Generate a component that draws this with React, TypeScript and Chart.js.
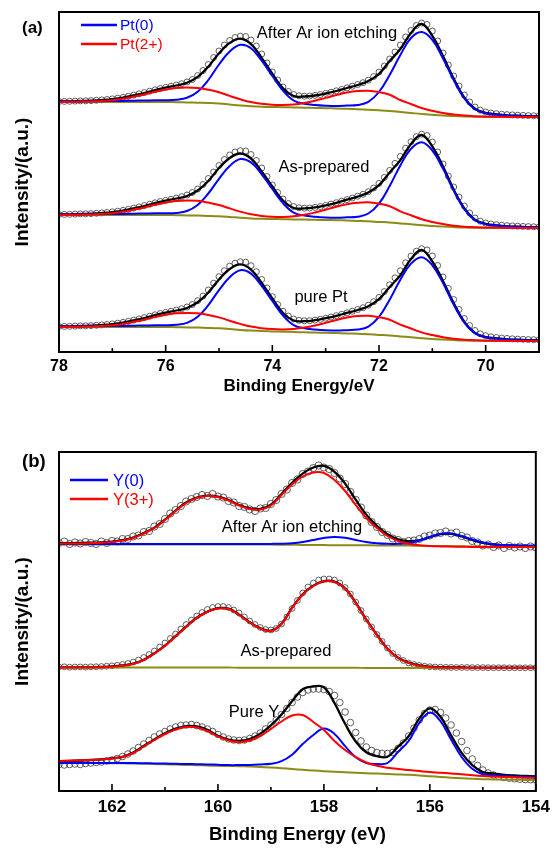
import React, { useEffect, useRef } from 'react';
import { Chart, registerables } from 'chart.js';

Chart.register(...registerables);

const FONT = '"Liberation Sans", Arial, Helvetica, sans-serif';

// ---------- Panel (a): Pt 4f ----------
const E_LINE_A = [
  78, 77.8, 77.6, 77.4, 77.2, 77, 76.8, 76.6, 76.4, 76.2,
  76, 75.8, 75.6, 75.4, 75.2, 75, 74.8, 74.6, 74.4, 74.2,
  74, 73.8, 73.6, 73.4, 73.2, 73, 72.8, 72.6, 72.4, 72.2,
  72, 71.8, 71.6, 71.4, 71.2, 71, 70.8, 70.6, 70.4, 70.2,
  70, 69.8, 69.6, 69.4, 69.2, 69,
];
const E_DOT_A = [
  78, 77.9, 77.8, 77.7, 77.6, 77.5, 77.4, 77.3, 77.2, 77.1,
  77, 76.9, 76.8, 76.7, 76.6, 76.5, 76.4, 76.3, 76.2, 76.1,
  76, 75.9, 75.8, 75.7, 75.6, 75.5, 75.4, 75.3, 75.2, 75.1,
  75, 74.9, 74.8, 74.7, 74.6, 74.5, 74.4, 74.3, 74.2, 74.1,
  74, 73.9, 73.8, 73.7, 73.6, 73.5, 73.4, 73.3, 73.2, 73.1,
  73, 72.9, 72.8, 72.7, 72.6, 72.5, 72.4, 72.3, 72.2, 72.1,
  72, 71.9, 71.8, 71.7, 71.6, 71.5, 71.4, 71.3, 71.2, 71.1,
  71, 70.9, 70.8, 70.7, 70.6, 70.5, 70.4, 70.3, 70.2, 70.1,
  70, 69.9, 69.8, 69.7, 69.6, 69.5, 69.4, 69.3, 69.2, 69.1,
  69,
];
const TICKS_A_MAJOR = [78, 76, 74, 72, 70];
const TICKS_A_MINOR = [77, 75, 73, 71, 69];
const OFFSETS_A = [235, 124, 11]; // After Ar ion etching, As-prepared, pure Pt

// After Ar ion etching
const A1_BG = [
  15, 15, 15, 15, 15, 15, 15, 15, 15, 15,
  15, 14.8, 14.6, 14.3, 14, 13.5, 12.5, 11.5, 10.8, 10.3,
  10, 9.8, 9.5, 9.3, 9, 8.8, 8.5, 8.2, 7.8, 7.3,
  6.7, 6, 5, 4, 3, 2.2, 1.5, 1, 0.6, 0.3,
  0.1, 0, 0, 0, 0, 0,
];
const A1_PT0 = [
  15.5, 15.5, 15.6, 15.7, 15.8, 16, 16.1, 16.3, 16.5, 16.7,
  16.7, 17.2, 19.2, 25.3, 37, 52.5, 65.5, 72.2, 68.8, 56.3,
  41, 26.3, 16.5, 13.3, 12, 11.3, 11, 11.4, 12, 15.1,
  25, 42, 62, 79, 85, 77.2, 58.5, 37, 18.6, 7.7,
  3.8, 2.5, 1.6, 1.2, 0.8, 0.6,
];
const A1_PT2 = [
  15, 15.2, 15.4, 15.6, 16.1, 16.8, 18.2, 20.3, 22.5, 25.2,
  27.6, 29.1, 29.6, 29.1, 27.3, 24.8, 21.1, 17.7, 14.9, 13.2,
  12.3, 12.1, 12.6, 14.1, 16.3, 19.1, 22, 24.5, 26, 26.3,
  24.9, 22.3, 17, 13, 9, 6.2, 4, 2.4, 1.4, 0.8,
  0.4, 0.2, 0.1, 0.1, 0, 0,
];
const A1_FIT = [
  15.5, 15.7, 16, 16.3, 16.9, 17.8, 19.3, 21.6, 24, 26.9,
  29.3, 31.5, 34.2, 40.1, 50.3, 63.8, 74.1, 78.4, 72.9, 59.2,
  43.3, 28.6, 21, 20.5, 21.5, 23.5, 26, 29, 32, 36,
  43.2, 56, 68, 84, 93, 81.2, 61, 38.4, 19.4, 8.2,
  4.1, 2.7, 1.7, 1.3, 0.8, 0.6,
];
const A1_DATA = [
  15.5, 15.6, 15.7, 15.9, 16.1, 16.2, 16.4, 16.7, 17.1, 17.5,
  18.1, 18.8, 19.6, 20.7, 21.9, 23.1, 24.4, 25.8, 27.2, 28.5,
  29.6, 30.7, 31.9, 33.3, 35, 37.5, 41.5, 46.5, 52.5, 59.5,
  66, 72, 76.5, 79.5, 80.8, 80.5, 77, 71, 63, 54,
  45, 37, 30, 25.5, 22.5, 21.2, 20.8, 21, 21.6, 22.5,
  23.6, 24.8, 26.2, 27.6, 29.2, 30.8, 32.5, 34.3, 36.8, 40.5,
  45, 51, 58, 65, 72, 80, 86.5, 91.5, 94, 92.5,
  86, 76, 64, 52, 41, 31, 22, 15, 10, 6.8,
  5, 4, 3.3, 2.8, 2.4, 2.1, 1.8, 1.6, 1.4, 1.2,
  1.1,
];

// As-prepared
const A2_BG = [
  13, 13, 13, 13, 13, 13, 13, 13, 13, 13,
  13, 12.8, 12.6, 12.4, 12.1, 11.7, 11, 10.2, 9.6, 9.2,
  9, 8.8, 8.6, 8.4, 8.2, 8, 7.8, 7.5, 7.1, 6.7,
  6.1, 5.5, 4.6, 3.7, 2.8, 2, 1.4, 0.9, 0.5, 0.3,
  0.1, 0, 0, 0, 0, 0,
];
const A2_PT0 = [
  13.5, 13.5, 13.6, 13.7, 13.8, 14, 14.1, 14.3, 14.5, 14.7,
  14.7, 15.1, 17, 23, 34.5, 49.2, 62, 68.9, 65.6, 53.7,
  39, 24.8, 15.4, 12.4, 11.2, 10.5, 10.3, 10.7, 11.3, 14.5,
  24.4, 42, 62.6, 79.2, 85.8, 77.5, 59.4, 37.4, 18.8, 7.8,
  3.9, 2.6, 1.7, 1.2, 0.8, 0.6,
];
const A2_PT2 = [
  13, 13.2, 13.4, 13.6, 14.1, 14.8, 16.2, 18.3, 20.5, 23.2,
  25.6, 27.1, 27.6, 27.2, 25.4, 23, 19.6, 16.4, 13.7, 12.1,
  11.3, 11.1, 11.7, 13.2, 15.5, 18.3, 21.3, 23.8, 25.3, 25.7,
  24.3, 21.8, 16.6, 12.7, 8.8, 6, 3.9, 2.3, 1.3, 0.8,
  0.4, 0.2, 0.1, 0.1, 0, 0,
];
const A2_FIT = [
  13.5, 13.7, 14, 14.3, 14.9, 15.8, 17.3, 19.6, 22, 24.9,
  27.3, 29.5, 32, 37.5, 47, 60, 70, 74.5, 69.5, 56.5,
  41.5, 27.5, 20, 19.6, 20.6, 22.7, 25.2, 28.3, 31.4, 35.5,
  42.8, 55.6, 67.8, 84, 93, 81.5, 61.5, 38.6, 19.5, 8.3,
  4.1, 2.7, 1.7, 1.3, 0.8, 0.6,
];
const A2_DATA = [
  13.5, 13.6, 13.7, 13.9, 14.1, 14.2, 14.4, 14.7, 15.1, 15.5,
  16.1, 16.8, 17.6, 18.7, 19.9, 21.1, 22.4, 23.8, 25.2, 26.5,
  27.6, 28.7, 29.9, 31.3, 33, 35.5, 39, 43.5, 49.5, 56,
  62.5, 68.5, 73, 76, 77.3, 77, 73.5, 67.5, 60, 51.5,
  43, 35.5, 29, 24.5, 21.5, 20.2, 19.8, 20, 20.6, 21.5,
  22.6, 23.9, 25.3, 26.8, 28.4, 30, 31.8, 33.7, 36.3, 40,
  44.6, 50.6, 57.6, 64.6, 71.6, 79.7, 86.3, 91.3, 93.8, 92.4,
  86, 76, 64, 52, 41, 31, 22, 15, 10, 6.8,
  5, 4, 3.3, 2.8, 2.4, 2.1, 1.8, 1.6, 1.4, 1.2,
  1.1,
];

// pure Pt
const A3_BG = [
  14, 14, 14, 14, 14, 14, 14, 14, 14, 14,
  14, 13.8, 13.6, 13.4, 13.1, 12.7, 12, 11.1, 10.4, 9.9,
  9.6, 9.3, 9, 8.7, 8.5, 8.2, 7.9, 7.6, 7.2, 6.7,
  6.1, 5.5, 4.6, 3.7, 2.8, 2, 1.4, 0.9, 0.5, 0.3,
  0.1, 0, 0, 0, 0, 0,
];
const A3_PT0 = [
  14.5, 14.5, 14.6, 14.7, 14.8, 15, 15.1, 15.3, 15.5, 15.7,
  15.7, 16.2, 18.1, 24.2, 35.9, 50.9, 63.8, 70.8, 67.4, 55.1,
  40.1, 25.5, 15.9, 12.7, 11.5, 10.7, 10.4, 10.8, 11.4, 14.4,
  24.1, 41.3, 61.3, 77.4, 83.8, 75.7, 57.9, 36.5, 18.3, 7.6,
  3.8, 2.5, 1.6, 1.2, 0.8, 0.6,
];
const A3_PT2 = [
  14, 14.2, 14.4, 14.6, 15.1, 15.8, 17.1, 19.1, 21.3, 23.9,
  26.2, 27.7, 28.1, 27.7, 26, 23.6, 20.3, 17.1, 14.4, 12.8,
  11.9, 11.6, 12.1, 13.4, 15.5, 18.2, 21, 23.5, 25, 25.2,
  23.8, 21.3, 16.3, 12.5, 8.6, 5.9, 3.8, 2.3, 1.3, 0.8,
  0.4, 0.2, 0.1, 0.1, 0, 0,
];
const A3_FIT = [
  14.5, 14.7, 15, 15.3, 15.9, 16.8, 18.3, 20.6, 23, 25.9,
  28.3, 30.5, 33, 38.7, 48.5, 61.6, 72, 76.6, 71.4, 58,
  42.5, 28, 20.5, 19.8, 20.8, 22.8, 25.2, 28.1, 31, 34.8,
  41.8, 54, 65.8, 82, 91, 79.5, 60, 38, 19.2, 8.1,
  4, 2.7, 1.7, 1.3, 0.8, 0.6,
];
const A3_DATA = [
  14.5, 14.6, 14.7, 14.9, 15.1, 15.2, 15.4, 15.7, 16.1, 16.5,
  17.1, 17.8, 18.6, 19.7, 20.9, 22.1, 23.4, 24.8, 26.2, 27.5,
  28.6, 29.7, 30.9, 32.3, 34, 36.5, 40.3, 45, 51, 57.8,
  64.3, 70.3, 74.8, 77.8, 79.2, 78.8, 75.3, 69.3, 61.5, 53,
  44.3, 36.5, 29.8, 25, 22, 20.6, 20.2, 20.3, 20.9, 21.7,
  22.8, 24, 25.3, 26.7, 28.2, 29.8, 31.5, 33.3, 35.8, 39.3,
  43.6, 49.4, 56.2, 63.2, 70.2, 78.2, 84.8, 89.8, 92.3, 91,
  85, 75.5, 64, 52.5, 41.5, 31.5, 22.5, 15.5, 10.5, 7.2,
  5.3, 4.2, 3.5, 3, 2.6, 2.2, 1.9, 1.7, 1.5, 1.3,
  1.2,
];

// ---------- Panel (b): Y 3d ----------
const E_LINE_B = [
  163, 162.8, 162.6, 162.4, 162.2, 162, 161.8, 161.6, 161.4, 161.2,
  161, 160.8, 160.6, 160.4, 160.2, 160, 159.8, 159.6, 159.4, 159.2,
  159, 158.8, 158.6, 158.4, 158.2, 158, 157.8, 157.6, 157.4, 157.2,
  157, 156.8, 156.6, 156.4, 156.2, 156, 155.8, 155.6, 155.4, 155.2,
  155, 154.8, 154.6, 154.4, 154.2, 154,
];
const E_DOT_B = [
  163, 162.9, 162.8, 162.7, 162.6, 162.5, 162.4, 162.3, 162.2, 162.1,
  162, 161.9, 161.8, 161.7, 161.6, 161.5, 161.4, 161.3, 161.2, 161.1,
  161, 160.9, 160.8, 160.7, 160.6, 160.5, 160.4, 160.3, 160.2, 160.1,
  160, 159.9, 159.8, 159.7, 159.6, 159.5, 159.4, 159.3, 159.2, 159.1,
  159, 158.9, 158.8, 158.7, 158.6, 158.5, 158.4, 158.3, 158.2, 158.1,
  158, 157.9, 157.8, 157.7, 157.6, 157.5, 157.4, 157.3, 157.2, 157.1,
  157, 156.9, 156.8, 156.7, 156.6, 156.5, 156.4, 156.3, 156.2, 156.1,
  156, 155.9, 155.8, 155.7, 155.6, 155.5, 155.4, 155.3, 155.2, 155.1,
  155, 154.9, 154.8, 154.7, 154.6, 154.5, 154.4, 154.3, 154.2, 154.1,
  154,
];
const TICKS_B_MAJOR = [162, 160, 158, 156, 154];
const TICKS_B_MINOR = [163, 161, 159, 157, 155];
const OFFSETS_B = [244, 123, 11]; // After Ar ion etching, As-prepared, Pure Y

// After Ar ion etching
const B1_BG = [
  2.6, 2.6, 2.6, 2.6, 2.6, 2.6, 2.6, 2.6, 2.6, 2.6,
  2.6, 2.6, 2.6, 2.6, 2.6, 2.6, 2.55, 2.5, 2.5, 2.45,
  2.4, 2.3, 2.2, 2.1, 2, 1.9, 1.85, 1.8, 1.7, 1.65,
  1.6, 1.5, 1.45, 1.4, 1.3, 1.1, 1, 0.8, 0.7, 0.5,
  0.4, 0.3, 0.2, 0.15, 0.1, 0.1,
];
const B1_Y0 = [
  3, 3, 3, 3, 3, 3, 3, 3, 3, 3,
  3, 3, 3, 3, 3, 3, 3, 3, 3, 3,
  3.1, 3.3, 3.8, 5, 7, 9, 10, 9.2, 7, 5,
  3.8, 3.2, 3.2, 4, 6.5, 10, 13.2, 13.5, 11, 7.5,
  4.5, 2.8, 2, 1.6, 1.3, 1.2,
];
const B1_Y3 = [
  3.5, 3.5, 3.6, 3.9, 4.3, 4.9, 6.4, 9, 13.5, 19,
  27, 36, 44, 49, 51, 50, 46.5, 41.5, 38, 37.5,
  41.5, 52, 62.5, 70.5, 74.5, 74, 67, 56, 42, 29,
  19, 11, 6, 3.2, 1.8, 1, 0.6, 0.4, 0.2, 0.1,
  0, 0, 0, 0, 0, 0,
];
const B1_FIT = [
  3.9, 3.9, 4, 4.3, 4.7, 5.3, 6.8, 9.4, 13.9, 19.4,
  27.4, 36.4, 44.4, 49.4, 51.4, 50.4, 47, 42, 38.5, 38,
  42.2, 52.9, 64.1, 73.4, 79.5, 81.1, 75.2, 63.4, 47.3, 32.4,
  21.2, 12.7, 7.7, 5.8, 6.6, 9.9, 12.8, 13.1, 10.5, 7.1,
  4.1, 2.5, 1.8, 1.45, 1.2, 1.1,
];
const B1_DATA = [
  4, 5.5, 3, 4.5, 3.5, 5, 4, 3, 5.5, 4,
  6, 5.5, 8, 8, 10.5, 11.5, 15, 16, 20.5, 23,
  28, 33.5, 37, 41, 45.5, 48, 50, 52, 51, 53,
  50.5, 49.5, 46, 44.5, 41, 40, 37.5, 36, 38.5, 39,
  43, 47, 53, 57.5, 64, 67.5, 73, 75.5, 79, 81.5,
  79.5, 78, 74, 68.5, 63, 55, 47, 39.5, 31.5, 25,
  20, 15, 12, 8.5, 7, 5, 6, 6.5, 8, 10.5,
  11.5, 13.5, 14, 15.5, 13.5, 14.5, 11, 9.5, 6, 4.5,
  1.5, 2.5, 0, 1.5, -1, 1, -0.5, 0.5, -1, 0.5,
  -0.5,
];

// As-prepared
const B2_BG = [
  0.5, 0.5, 0.5, 0.5, 0.5, 0.5, 0.5, 0.5, 0.5, 0.5,
  0.5, 0.5, 0.45, 0.45, 0.4, 0.4, 0.4, 0.35, 0.35, 0.3,
  0.3, 0.3, 0.25, 0.25, 0.2, 0.2, 0.2, 0.15, 0.15, 0.1,
  0.1, 0.1, 0.1, 0.1, 0.1, 0.1, 0.1, 0.1, 0.1, 0.1,
  0, 0, 0, 0, 0, 0,
];
const B2_Y3 = [
  0.5, 0.5, 0.5, 0.6, 0.8, 1.2, 2.2, 4, 8, 14.5,
  22, 31.5, 41, 50, 56, 59.5, 59, 53, 45.5, 39.5,
  37, 44, 60, 73.5, 82, 86.5, 86, 79.5, 65, 48,
  33, 19, 10, 5, 2.2, 1, 0.5, 0.3, 0.2, 0.1,
  0, 0, 0, 0, 0, 0,
];
const B2_FIT = [
  0.8, 0.8, 0.8, 0.9, 1.1, 1.5, 2.5, 4.3, 8.3, 14.8,
  22.3, 31.8, 41.3, 50.3, 56.3, 59.8, 59.3, 53.3, 45.8, 39.8,
  37.3, 44.3, 60.3, 73.8, 82.3, 86.8, 86.3, 79.8, 65.3, 48.3,
  33.3, 19.3, 10.3, 5.3, 2.5, 1.3, 0.8, 0.6, 0.5, 0.4,
  0.3, 0.3, 0.3, 0.3, 0.3, 0.3,
];
const B2_DATA = [
  1, 1.2, 0.8, 1, 1.1, 0.9, 1.2, 1.3, 1.5, 1.8,
  2.2, 2.8, 3.5, 4.5, 6, 8, 10.5, 13.5, 17, 21,
  25, 29.5, 34, 39, 43.5, 48, 52, 55.5, 58.5, 60.5,
  61.5, 61.5, 60.5, 58, 55, 51, 47, 43.5, 40.5, 38.5,
  38, 39.5, 44, 51, 59.5, 67.5, 75, 81, 85, 88,
  89, 89, 88, 85, 80.5, 74, 66, 57.5, 49, 41,
  33.5, 26.5, 20, 14.5, 10.5, 7.5, 5, 3.5, 2.5, 1.8,
  1.3, 1, 0.8, 0.7, 0.6, 0.5, 0.5, 0.5, 0.4, 0.4,
  0.4, 0.3, 0.3, 0.3, 0.3, 0.2, 0.2, 0.2, 0.2, 0.2,
  0.2,
];

// Pure Y
const B3_BG = [
  17, 17, 17, 17, 16.9, 16.8, 16.7, 16.5, 16.3, 16,
  15.7, 15.4, 15.1, 14.8, 14.5, 14.2, 14, 13.8, 13.5, 13.1,
  12.5, 11.8, 11, 10.2, 9.5, 8.8, 8.2, 7.7, 7.2, 6.8,
  6.4, 6, 5.6, 5.2, 4.6, 3.8, 3, 2.3, 1.7, 1.2,
  0.8, 0.5, 0.3, 0.2, 0.1, 0,
];
const B3_Y0 = [
  17, 17, 17, 17, 17, 17, 17, 16.9, 16.8, 16.6,
  16.4, 16.2, 16, 15.8, 15.6, 15.2, 14.9, 14.9, 15, 15.5,
  16.2, 18.9, 25.3, 35.9, 45, 51.5, 46.1, 33.9, 22.7, 17,
  16, 17, 28, 39, 57, 67.4, 58.9, 40.5, 23, 11.2,
  5.8, 5, 4, 3.5, 3.2, 3,
];
const B3_Y3 = [
  19, 19.3, 19.6, 20, 20.6, 21.5, 23, 27, 33.5, 40,
  46, 50.5, 53, 52.5, 49, 43.5, 39.5, 38, 39.5, 44,
  51, 58.5, 64.5, 65, 58, 50, 39, 30, 23, 17.5,
  14.2, 12.3, 11, 10, 9, 8, 7.3, 6.5, 5.8, 4.8,
  4, 3.5, 3.1, 2.7, 2.3, 2,
];
const B3_FIT = [
  18.5, 19, 19.5, 20, 20.7, 21.7, 23.2, 27.4, 34, 40.6,
  46.7, 51.3, 53.9, 53.5, 50.1, 44.3, 40.4, 39.1, 41, 46.4,
  54.7, 65.6, 78.8, 90.7, 93.5, 92.7, 76.9, 56.2, 38.5, 27.7,
  23.8, 23.3, 33.4, 43.8, 61.4, 71.6, 63.2, 44.7, 27.1, 14.8,
  8, 6.5, 5.2, 4.5, 4, 3.5,
];
const B3_DATA = [
  15.5, 15, 15.5, 16, 15.5, 16.5, 17, 17.5, 18, 19,
  20, 21.5, 23.5, 26, 29, 32.5, 36, 39.5, 43, 46,
  48.5, 51, 53, 54.5, 55, 55.5, 54.5, 53, 51, 48.5,
  45.5, 43, 41, 40, 39.5, 40, 41.5, 44, 47, 51,
  55, 60, 65.5, 71.5, 77.5, 83, 87.5, 90, 91, 91,
  90.5, 88.5, 84.5, 77.5, 68, 57.5, 47.5, 39, 33, 29.5,
  27.5, 26.5, 26.5, 27.5, 31.5, 37, 44, 52, 60, 66.5,
  70, 70.5, 67.5, 62, 55, 47, 38.5, 29.5, 21, 14.5,
  10, 7, 5, 3.5, 2.5, 1.8, 1.2, 0.8, 0.5, 0.3,
  0.2,
];

// ---------- styles ----------
const C_BLUE = '#0000ff';
const C_RED = '#ff0000';
const C_FIT = '#000000';
const C_BG = '#8c8c14';
const C_DOT = '#3a3a3a';

type Spec = {
  offset: number;
  data: number[];
  fit: number[];
  bg: number[];
  blue?: number[];
  red: number[];
  r: number;
};

function pts(xs: number[], ys: number[], off: number) {
  return xs.map((x, i) => ({ x, y: ys[i] + off }));
}

function buildDatasets(eLine: number[], eDot: number[], specs: Spec[]) {
  const ds: any[] = [];
  specs.forEach((s) => {
    const line = (vals: number[], color: string, w: number, order: number) => ({
      type: 'line',
      data: pts(eLine, vals, s.offset),
      borderColor: color,
      borderWidth: w,
      pointRadius: 0,
      tension: 0.4,
      fill: false,
      order,
    });
    ds.push(line(s.red, C_RED, 2, 1));
    if (s.blue) ds.push(line(s.blue, C_BLUE, 2, 2));
    ds.push(line(s.bg, C_BG, 2, 3));
    ds.push(line(s.fit, C_FIT, 2.3, 4));
    ds.push({
      type: 'line',
      data: pts(eDot, s.data, s.offset),
      showLine: false,
      pointStyle: 'circle',
      pointRadius: s.r,
      pointBorderWidth: 0.8,
      pointBorderColor: C_DOT,
      pointBackgroundColor: 'rgba(255,255,255,0)',
      order: 5,
    });
  });
  return ds;
}

type Overlay = {
  id: string;
  major: number[];
  minor: number[];
  panel: { text: string; x: number; y: number; size: number };
  legend: { text: string; color: string; y: number }[];
  legendX0: number;
  legendX1: number;
  legendTextX: number;
  legendSize: number;
  labels: { text: string; x: number; y: number }[];
  labelSize: number;
};

function overlayPlugin(o: Overlay) {
  return {
    id: 'overlay_' + o.id,
    afterDraw(chart: any) {
      const { ctx, chartArea: a, scales } = chart;
      const xs = scales.x;
      ctx.save();
      ctx.strokeStyle = '#000';
      ctx.lineWidth = 2;
      ctx.strokeRect(a.left, a.top, a.right - a.left, a.bottom - a.top);
      ctx.lineWidth = 1.6;
      o.major.forEach((v) => {
        const px = xs.getPixelForValue(v);
        ctx.beginPath();
        ctx.moveTo(px, a.bottom);
        ctx.lineTo(px, a.bottom - 7);
        ctx.stroke();
      });
      o.minor.forEach((v) => {
        const px = xs.getPixelForValue(v);
        ctx.beginPath();
        ctx.moveTo(px, a.bottom);
        ctx.lineTo(px, a.bottom - 4);
        ctx.stroke();
      });
      ctx.textBaseline = 'middle';
      ctx.textAlign = 'left';
      ctx.fillStyle = '#000';
      ctx.font = `bold ${o.panel.size}px ${FONT}`;
      ctx.fillText(o.panel.text, o.panel.x, o.panel.y);
      o.legend.forEach((it) => {
        ctx.strokeStyle = it.color;
        ctx.lineWidth = 2.5;
        ctx.beginPath();
        ctx.moveTo(o.legendX0, it.y);
        ctx.lineTo(o.legendX1, it.y);
        ctx.stroke();
        ctx.fillStyle = it.color;
        ctx.font = `${o.legendSize}px ${FONT}`;
        ctx.fillText(it.text, o.legendTextX, it.y + 1);
      });
      ctx.fillStyle = '#000';
      ctx.textAlign = 'center';
      ctx.font = `${o.labelSize}px ${FONT}`;
      o.labels.forEach((l) => ctx.fillText(l.text, l.x, l.y));
      ctx.restore();
    },
  };
}

function makeConfig(p: {
  datasets: any[];
  xmin: number;
  xmax: number;
  ymax: number;
  padTop: number;
  xHeight: number;
  tickPad: number;
  tickSize: number;
  xTitle: string;
  xTitleSize: number;
  xTitlePadBottom: number;
  overlay: Overlay;
}) {
  return {
    type: 'line',
    data: { datasets: p.datasets },
    options: {
      animation: false,
      responsive: false,
      maintainAspectRatio: false,
      devicePixelRatio: 1,
      events: [],
      layout: { padding: { top: p.padTop, right: 17, left: 0, bottom: 0 } },
      plugins: { legend: { display: false }, tooltip: { enabled: false } },
      scales: {
        x: {
          type: 'linear',
          position: 'bottom',
          min: p.xmin,
          max: p.xmax,
          reverse: true,
          afterFit: (s: any) => {
            s.height = p.xHeight;
          },
          grid: { display: false, drawTicks: false },
          border: { display: false },
          ticks: {
            stepSize: 1,
            autoSkip: false,
            maxRotation: 0,
            padding: p.tickPad,
            color: '#000',
            font: { family: FONT, size: p.tickSize, weight: 'bold' },
            callback: (v: any) => (Number(v) % 2 === 0 ? String(v) : ''),
          },
          title: {
            display: true,
            text: p.xTitle,
            color: '#000',
            font: { family: FONT, size: p.xTitleSize, weight: 'bold' },
            padding: { top: 0, bottom: p.xTitlePadBottom },
          },
        },
        y: {
          type: 'linear',
          min: 0,
          max: p.ymax,
          afterFit: (s: any) => {
            s.width = 59;
          },
          grid: { display: false, drawTicks: false },
          border: { display: false },
          ticks: { display: false },
          title: {
            display: true,
            text: 'Intensity/(a.u.)',
            color: '#000',
            font: { family: FONT, size: 19, weight: 'bold' },
            padding: { top: 11, bottom: 0 },
          },
        },
      },
    },
    plugins: [overlayPlugin(p.overlay)],
  };
}

function PanelChart({ top, height, build }: { top: number; height: number; build: () => any }) {
  const ref = useRef<HTMLCanvasElement>(null);
  useEffect(() => {
    const chart = new Chart(ref.current as HTMLCanvasElement, build());
    return () => chart.destroy();
  }, []);
  return (
    <canvas
      ref={ref}
      width={556}
      height={height}
      style={{ position: 'absolute', left: 0, top, width: 556, height, display: 'block' }}
    />
  );
}

const buildA = () =>
  makeConfig({
    datasets: buildDatasets(E_LINE_A, E_DOT_A, [
      { offset: OFFSETS_A[0], data: A1_DATA, fit: A1_FIT, bg: A1_BG, blue: A1_PT0, red: A1_PT2, r: 3 },
      { offset: OFFSETS_A[1], data: A2_DATA, fit: A2_FIT, bg: A2_BG, blue: A2_PT0, red: A2_PT2, r: 3 },
      { offset: OFFSETS_A[2], data: A3_DATA, fit: A3_FIT, bg: A3_BG, blue: A3_PT0, red: A3_PT2, r: 3 },
    ]),
    xmin: 69,
    xmax: 78,
    ymax: 340,
    padTop: 12,
    xHeight: 68,
    tickPad: 5,
    tickSize: 16,
    xTitle: 'Binding Energy/eV',
    xTitleSize: 17,
    xTitlePadBottom: 23,
    overlay: {
      id: 'a',
      major: TICKS_A_MAJOR,
      minor: TICKS_A_MINOR,
      panel: { text: '(a)', x: 22, y: 28, size: 17 },
      legend: [
        { text: 'Pt(0)', color: C_BLUE, y: 25 },
        { text: 'Pt(2+)', color: C_RED, y: 44 },
      ],
      legendX0: 81,
      legendX1: 117,
      legendTextX: 120,
      legendSize: 15.5,
      labels: [
        { text: 'After Ar ion etching', x: 327, y: 33 },
        { text: 'As-prepared', x: 324, y: 167 },
        { text: 'pure Pt', x: 321, y: 297 },
      ],
      labelSize: 16.5,
    },
  });

const buildB = () =>
  makeConfig({
    datasets: buildDatasets(E_LINE_B, E_DOT_B, [
      { offset: OFFSETS_B[0], data: B1_DATA, fit: B1_FIT, bg: B1_BG, blue: B1_Y0, red: B1_Y3, r: 3.6 },
      { offset: OFFSETS_B[1], data: B2_DATA, fit: B2_FIT, bg: B2_BG, red: B2_Y3, r: 2.9 },
      { offset: OFFSETS_B[2], data: B3_DATA, fit: B3_FIT, bg: B3_BG, blue: B3_Y0, red: B3_Y3, r: 3.3 },
    ]),
    xmin: 154,
    xmax: 163,
    ymax: 339,
    padTop: 32,
    xHeight: 57,
    tickPad: 6,
    tickSize: 17,
    xTitle: 'Binding Energy (eV)',
    xTitleSize: 18.5,
    xTitlePadBottom: 2,
    overlay: {
      id: 'b',
      major: TICKS_B_MAJOR,
      minor: TICKS_B_MINOR,
      panel: { text: '(b)', x: 22, y: 42, size: 18.5 },
      legend: [
        { text: 'Y(0)', color: C_BLUE, y: 60 },
        { text: 'Y(3+)', color: C_RED, y: 79 },
      ],
      legendX0: 70,
      legendX1: 108,
      legendTextX: 113,
      legendSize: 16.5,
      labels: [
        { text: 'After Ar ion etching', x: 292, y: 107 },
        { text: 'As-prepared', x: 286, y: 231 },
        { text: 'Pure Y', x: 254, y: 292 },
      ],
      labelSize: 16.5,
    },
  });

export default function App() {
  return (
    <div style={{ position: 'absolute', left: 0, top: 0, width: 556, height: 848, background: '#fff' }}>
      <PanelChart top={0} height={420} build={buildA} />
      <PanelChart top={420} height={428} build={buildB} />
    </div>
  );
}
